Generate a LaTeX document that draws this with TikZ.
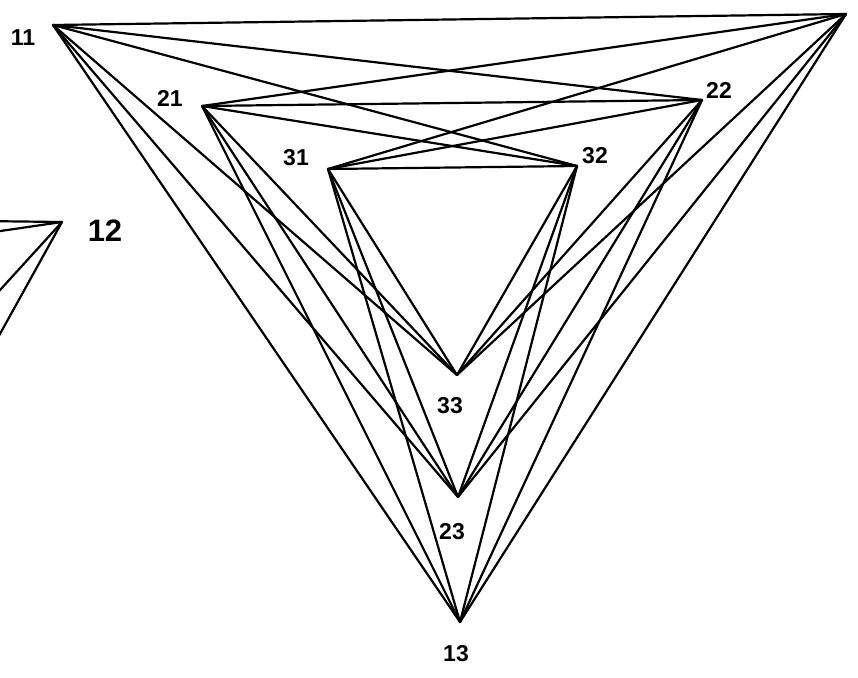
\documentclass[tikz,border=0pt]{standalone}
\usepackage{fontspec}
\setmainfont{Liberation Sans}
\begin{document}
\begin{tikzpicture}[x=1pt,y=-1pt,
  edge/.style={line width=2.2pt,line join=round,line cap=round,black},
  lab/.style={inner sep=0pt,font=\fontsize{23}{23}\selectfont\bfseries},
  biglab/.style={inner sep=0pt,font=\fontsize{31}{31}\selectfont\bfseries}]
\clip (0,0) rectangle (858,677);
\fill[white] (0,0) rectangle (858,677);
% vertices
\coordinate (v11) at (53,25);
\coordinate (vTR) at (846,14);
\coordinate (v13) at (460,622);
\coordinate (v21) at (202,106);
\coordinate (v22) at (702,100);
\coordinate (v23) at (458,497);
\coordinate (v31) at (328,169);
\coordinate (v32) at (577,166);
\coordinate (v33) at (457,375);
% left partial figure
\coordinate (v12) at (62,222);
\coordinate (e1) at (-20,221);
\coordinate (e2) at (-20,234);
\coordinate (e3) at (-20,312);
\coordinate (e4) at (-20,370);
% labels
\node[lab] (l11) at (23,38) {11};
\node[lab] (l21) at (170,98) {21};
\node[lab] (l31) at (296,158) {31};
\node[lab] (l22) at (719,90) {22};
\node[lab] (l32) at (595,156) {32};
\node[lab] (l33) at (450,406) {33};
\node[lab] (l23) at (452,532) {23};
\node[lab] (l13) at (456,654) {13};
\node[biglab] (l12) at (105,231) {12};
% K_{3,3,3} edges
\foreach \a in {v11,v21,v31}{
  \foreach \b in {vTR,v22,v32}{\draw[edge] (\a) -- (\b);}
  \foreach \c in {v13,v23,v33}{\draw[edge] (\a) -- (\c);}
}
\foreach \b in {vTR,v22,v32}{
  \foreach \c in {v13,v23,v33}{\draw[edge] (\b) -- (\c);}
}
% partial figure edges
\foreach \e in {e1,e2,e3,e4}{\draw[edge] (v12) -- (\e);}
\end{tikzpicture}
\end{document}
